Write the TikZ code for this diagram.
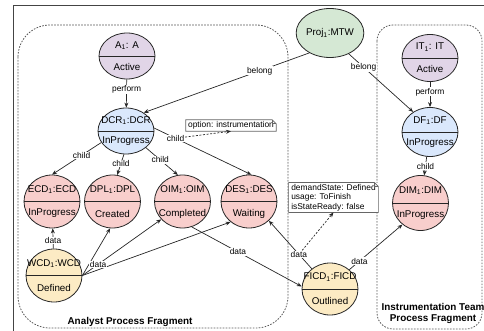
\documentclass[tikz,border=0pt]{standalone}
\usepackage{fontspec}
\setmainfont{Liberation Sans}
\usepackage{xcolor}
\usepackage{tikz}
\usetikzlibrary{shapes,arrows,positioning,calc,arrows.meta}

\definecolor{actfill}{HTML}{E1D5E7}
\definecolor{wsfill}{HTML}{DAE8FC}
\definecolor{projfill}{HTML}{D5E8D4}
\definecolor{taskfill}{HTML}{F8CECC}
\definecolor{docfill}{HTML}{FCEBC4}
\definecolor{framegray}{HTML}{444444}

\tikzset{
  obj/.style={ellipse, draw=black!85, line width=0.8pt, minimum width=56pt, inner sep=0pt, font=\fontsize{9.8}{11}\selectfont},
  objtext/.style={inner sep=0pt, font=\fontsize{9.8}{11}\selectfont},
  rel/.style={draw=black!85, line width=0.7pt, -{Stealth[length=5pt,width=4pt]}},
  dep/.style={rel, dash pattern=on 2pt off 1.6pt},
  lab/.style={fill=white, inner sep=0.6pt, font=\fontsize{8.4}{9}\selectfont},
  note/.style={fill=white, inner xsep=2.5pt, inner ysep=1.2pt, align=left, font=\fontsize{8.4}{9.6}\selectfont},
  notebd/.style={draw=black!60, line width=0.7pt},
  region/.style={draw=black!65, line width=0.8pt, dash pattern=on 1.6pt off 1.4pt},
  fragtitle/.style={font=\fontsize{9.9}{11}\selectfont\bfseries, align=center, inner sep=0pt},
}

\begin{document}
\begin{tikzpicture}[x=1pt,y=-1pt]
    \useasboundingbox (0,0) rectangle (484,331);

    % Frame and the two process fragments
    \draw[framegray, line width=1pt] (13,331) -- (13,6) -- (484,6);
    \draw[region, rounded corners=32pt] (18,25) rectangle (288,328);
    \draw[region, rounded corners=16pt] (377,25) rectangle (482,329);
    \node[fragtitle] (anl) at (130,322) {Analyst Process Fragment};
    \node[fragtitle] (itf) at (433,313.5) {Instrumentation Team\\Process Fragment};

    % Objects: name / x / y / height / fill / label / state
    \foreach \id/\x/\y/\h/\col/\nm/\st in {
        a1/127/56/46/actfill/{A\textsubscript{1}: A}/Active,
        dcr/126/131/46/wsfill/{DCR\textsubscript{1}:DCR}/InProgress,
        it/430/58/47/actfill/{IT\textsubscript{1}: IT}/Active,
        df/430/132/49/wsfill/{DF\textsubscript{1}:DF}/InProgress,
        ecd/52/201.5/53/taskfill/{ECD\textsubscript{1}:ECD}/InProgress,
        dpl/112.5/201.5/53/taskfill/{DPL\textsubscript{1}:DPL}/Created,
        oim/182.5/201.5/53/taskfill/{OIM\textsubscript{1}:OIM}/Completed,
        des/249/201.5/53/taskfill/{DES\textsubscript{1}:DES}/Waiting,
        dim/420.5/203/55/taskfill/{DIM\textsubscript{1}:DIM}/InProgress,
        wcd/54/275.5/53/docfill/{WCD\textsubscript{1}:WCD}/Defined,
        ficd/330/289/52/docfill/{FICD\textsubscript{1}:FICD}/Outlined} {
        \node[obj, minimum height=\h pt, fill=\col] (\id) at (\x,\y) {};
        \draw[draw=black!85, line width=0.8pt] (\id.west) -- (\id.east);
        \node[objtext] (\id-n) at ($(\id.center)!0.45!(\id.north)$) {\nm};
        \node[objtext] (\id-s) at ($(\id.center)!0.45!(\id.south)$) {\st};
    }
    \node[obj, minimum height=49pt, fill=projfill] (proj) at (330,33) {Proj\textsubscript{1}:MTW};

    % Notes with folded corner
    \node[note, minimum width=90pt, minimum height=11pt, inner xsep=1.5pt, inner ysep=0pt] (opt) at (231,125.5) {option: instrumentation};
    \node[note] (st) at (333.5,197.5) {demandState: Defined\\usage: ToFinish\\isStateReady: false};
    \foreach \n in {opt,st} {
        \draw[notebd] (\n.south west) -- (\n.north west) -- ([xshift=-4pt]\n.north east) -- ([yshift=-4pt]\n.north east) -- (\n.south east) -- cycle;
        \draw[notebd] ([xshift=-4pt]\n.north east) -- ([xshift=-4pt,yshift=-4pt]\n.north east) -- ([yshift=-4pt]\n.north east);
    }

    % perform / belong
    \draw[rel] (a1) -- node[lab, pos=0.35] (a1dcr) {perform} (dcr);
    \draw[rel] (it) -- node[lab, pos=0.4] (itdf) {perform} (df);
    \draw[rel] (proj.224) -- node[lab, pos=0.3] (projdcr) {belong} (dcr.46);
    \draw[rel] (proj.312) -- node[lab, pos=0.23] (projdf) {belong} (df.130);

    % child
    \draw[rel] (dcr.205) -- node[lab, pos=0.4] (dcrecd) {child} (ecd.north);
    \draw[rel] (dcr.265) -- node[lab, pos=0.45] (dcrdpl) {child} (dpl.80);
    \draw[rel] (dcr.320) -- node[lab, pos=0.45] (dcroim) {child} (oim.100);
    \draw[rel] (dcr.6) -- node[lab, pos=0.22] (dcrdes) {child} (des.85);
    \draw[rel] (df) -- node[lab, pos=0.5] (dfdim) {child} (dim);
    \draw[dep] (dcrdes) -- (opt.south);

    % data
    \draw[rel] (wcd) -- node[lab, pos=0.4] (wcdecd) {data} (ecd);
    \draw[rel] (wcd.east) -- (dpl.265);
    \draw[rel] (wcd.east) -- (des.228);
    \draw[rel] (wcd.east) -- node[lab, pos=0.2] (wcdoim) {data} (oim.220);
    \draw[rel] (oim.290) -- node[lab, pos=0.42] (oimficd) {data} (ficd.175);
    \draw[rel] (ficd.132) -- node[lab, pos=0.3] (ficddes) {data} (des.316);
    \draw[rel] (ficd.45) -- node[lab, pos=0.19] (ficddim) {data} (dim.230);
    \draw[dep] (ficddes) -- (st.south);
\end{tikzpicture}
\end{document}
